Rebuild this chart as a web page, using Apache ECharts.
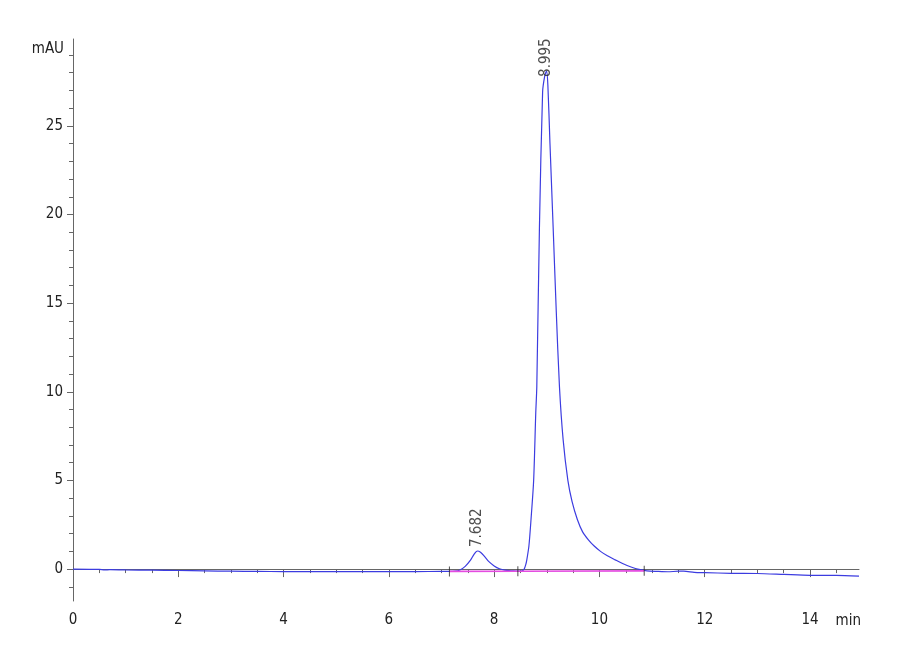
<!DOCTYPE html>
<html>
<head>
<meta charset="utf-8">
<script src="https://cdn.jsdelivr.net/npm/echarts@6/dist/echarts.min.js"></script>
<style>
  html, body { margin: 0; padding: 0; background: #fff; }
  #chart { width: 900px; height: 660px; }
</style>
</head>
<body>
<div id="chart"></div>
<script>
// chromatogram (time in min, signal in mAU)
var times = [0, 0.5, 0.6, 0.7, 1, 1.5, 2, 2.5, 3, 3.5, 4, 4.5, 5, 5.5, 6, 6.5, 7, 7.15,
  7.25, 7.35, 7.45, 7.55, 7.62, 7.682, 7.74, 7.82, 7.9, 8.0, 8.1, 8.2, 8.35, 8.45,
  8.53, 8.57, 8.60, 8.62, 8.66, 8.70, 8.75, 8.79, 8.81, 8.86, 8.92, 8.96, 8.995, 9.02, 9.06,
  9.12, 9.18, 9.24, 9.31, 9.40, 9.48, 9.58, 9.68, 9.79, 9.9, 10.02, 10.15, 10.3, 10.45,
  10.6, 10.75, 10.9, 11.1, 11.3, 11.5, 11.6, 11.8, 12, 12.5, 13, 13.5, 14, 14.5, 14.93];
var signal = [0.00, -0.02, -0.05, -0.03, -0.05, -0.06, -0.08, -0.10, -0.12, -0.13, -0.14, -0.14, -0.14, -0.14, -0.14, -0.14, -0.13, -0.13,
  -0.12, -0.05, 0.15, 0.5, 0.85, 1.02, 0.95, 0.7, 0.42, 0.18, 0.02, -0.06, -0.1, -0.12,
  -0.1, 0.0, 0.25, 0.52, 1.3, 2.8, 5.0, 8.8, 10.3, 19.3, 26.9, 27.8, 28.1, 27.3, 24.0,
  19.3, 14.5, 10.3, 7.3, 5.0, 3.8, 2.8, 2.1, 1.65, 1.3, 1.0, 0.75, 0.52, 0.3,
  0.12, -0.02, -0.1, -0.13, -0.15, -0.12, -0.12, -0.18, -0.2, -0.24, -0.25, -0.3, -0.35, -0.36, -0.4];

// integration baselines and their end marks
var baseStart = [[7.15, -0.13], [8.45, -0.12]];
var baseEnd = [[8.45, -0.12], [10.85, -0.1]];
var baseMarks = [[7.15, -0.13], [8.45, -0.12], [10.85, -0.1]];

// peak apexes (retention time, height)
var peaks = [[7.682, 1.02], [8.995, 28.1]];

var xLabels = [0, 2, 4, 6, 8, 10, 12, 14];
var xMinor = [0.5, 1, 1.5, 2.5, 3, 3.5, 4.5, 5, 5.5, 6.5, 7, 7.5, 8.5, 9, 9.5, 10.5, 11, 11.5, 12.5, 13, 13.5, 14.5];
var yLabels = [0, 5, 10, 15, 20, 25];
var yMinor = [-1, 1, 2, 3, 4, 6, 7, 8, 9, 11, 12, 13, 14, 16, 17, 18, 19, 21, 22, 23, 24, 26, 27, 28, 29];

var font = "'Liberation Sans Narrow', 'DejaVu Sans Condensed', 'Liberation Sans', sans-serif";
var fontSize = 15;
var axisColor = '#666';

var chart = echarts.init(document.getElementById('chart'));

var trace = times.map(function (t, i) { return [t, signal[i]]; });

var series = [{
  type: 'line',
  data: trace,
  showSymbol: false,
  smooth: 0.25,
  lineStyle: { color: '#3c3ce0', width: 1.2 },
  z: 2,
  silent: true
}];
baseStart.forEach(function (p, i) {
  series.push({
    type: 'line',
    data: [p, baseEnd[i]],
    showSymbol: false,
    lineStyle: { color: '#e44ce0', width: 1.6 },
    z: 3,
    silent: true
  });
});
series.push({
  type: 'scatter',
  data: baseMarks,
  symbol: 'rect',
  symbolSize: [1, 10],
  itemStyle: { color: '#222' },
  z: 4,
  silent: true
});
series.push({
  type: 'scatter',
  // the tall peak's label sits down on the apex, as in the original
  data: peaks.map(function (p, i) {
    return i === 1 ? { value: p, label: { distance: -6 } } : { value: p };
  }),
  symbolSize: 0,
  z: 5,
  label: {
    show: true,
    position: 'top',
    distance: 4,
    rotate: 90,
    align: 'left',
    verticalAlign: 'middle',
    fontFamily: font,
    fontSize: fontSize,
    color: '#222',
    formatter: function (p) { return p.value[0].toFixed(3); }
  },
  silent: true
});

chart.setOption({
  animation: false,
  grid: { left: 73, right: 41, top: 39, bottom: 59 },
  xAxis: [{
    type: 'value',
    min: 0,
    max: 14.93,
    name: 'min',
    nameLocation: 'end',
    nameGap: 2,
    nameTextStyle: { fontFamily: font, fontSize: fontSize, color: '#222', align: 'right', verticalAlign: 'top', padding: [45, 0, 0, 0] },
    splitLine: { show: false },
    axisLine: { lineStyle: { color: axisColor, width: 1 } },
    axisTick: { show: true, length: 8, lineStyle: { color: axisColor }, customValues: xLabels },
    axisLabel: { fontFamily: font, fontSize: fontSize, color: '#222', margin: 12, customValues: xLabels }
  }, {
    type: 'value',
    position: 'bottom',
    min: 0,
    max: 14.93,
    splitLine: { show: false },
    axisLine: { show: false },
    axisTick: { show: true, length: 4, lineStyle: { color: axisColor }, customValues: xMinor },
    axisLabel: { show: false }
  }],
  yAxis: [{
    type: 'value',
    min: -1.8,
    max: 29.9,
    name: 'mAU',
    nameLocation: 'end',
    nameGap: -10,
    nameTextStyle: { fontFamily: font, fontSize: fontSize, color: '#222', align: 'right', verticalAlign: 'middle', padding: [0, 9, 0, 0] },
    splitLine: { show: false },
    axisLine: { show: true, lineStyle: { color: axisColor, width: 1 } },
    axisTick: { show: true, length: 6, lineStyle: { color: axisColor }, customValues: yLabels },
    axisLabel: { fontFamily: font, fontSize: fontSize, color: '#222', margin: 10, customValues: yLabels }
  }, {
    type: 'value',
    position: 'left',
    min: -1.8,
    max: 29.9,
    splitLine: { show: false },
    axisLine: { show: false },
    axisTick: { show: true, length: 4, lineStyle: { color: axisColor }, customValues: yMinor },
    axisLabel: { show: false }
  }],
  series: series
});
</script>
</body>
</html>
